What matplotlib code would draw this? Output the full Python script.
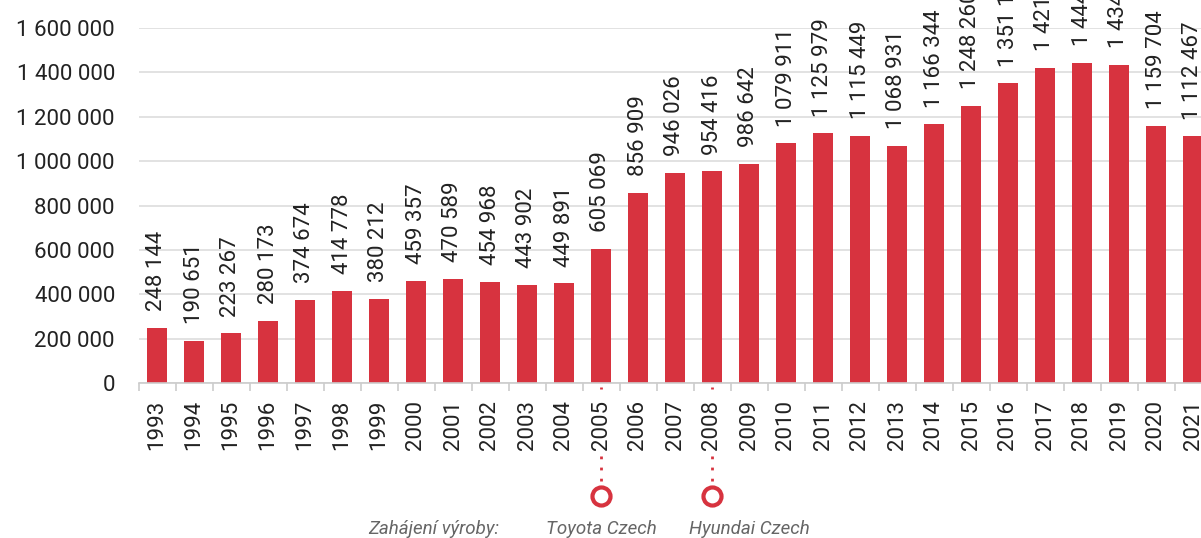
import numpy as np
import matplotlib.pyplot as plt
import matplotlib.transforms as mtransforms

plt.rcParams['font.family'] = ['Roboto', 'DejaVu Sans']

years = list(range(1993, 2022))
production = [248144, 190651, 223267, 280173, 374674, 414778, 380212, 459357,
              470589, 454968, 443902, 449891, 605069, 856909, 946026, 954416,
              986642, 1079911, 1125979, 1115449, 1068931, 1166344, 1248260,
              1351100, 1421200, 1444300, 1434200, 1159704, 1112467]
yticks = [0, 200000, 400000, 600000, 800000, 1000000, 1200000, 1400000, 1600000]
events = {2005: 'Toyota Czech', 2008: 'Hyundai Czech'}


def fmt(v):
    return f'{v:,}'.replace(',', ' ')


red = '#d7333f'
fig = plt.figure(figsize=(12.01, 5.38), dpi=100)
ax = fig.add_axes([138.5 / 1201, 155 / 538, 1073 / 1201, 355 / 538])

x = np.arange(len(years))
ax.bar(x, production, width=0.55, color=red, zorder=2)
# value labels above bars (the top ones run off the picture, as in the original)
for xi, v in zip(x, production):
    ax.annotate(fmt(v), (xi, v), xytext=(0, 12), textcoords='offset points',
                rotation=90, ha='center', va='bottom', fontsize=16,
                color='#222222', annotation_clip=False)

ax.set_xlim(-0.5, len(years) - 0.5)
ax.set_ylim(0, 1600000)
ax.set_yticks(yticks)
ax.set_yticklabels([fmt(t) for t in yticks], fontsize=16, color='#222222')
ax.tick_params(axis='y', length=0, pad=17)
ax.grid(axis='y', color='#dddddd', linewidth=1.2, zorder=0)

ax.set_xticks(x)
ax.set_xticklabels([str(y) for y in years], rotation=90, fontsize=16, color='#222222')
ax.set_xticks(np.arange(-0.5, len(years), 1), minor=True)
ax.tick_params(axis='x', which='major', length=0, pad=12)
ax.tick_params(axis='x', which='minor', length=6, color='#cccccc', width=1.2)

for s in ['top', 'right', 'left']:
    ax.spines[s].set_visible(False)
ax.spines['bottom'].set_color('#cccccc')
ax.spines['bottom'].set_linewidth(1.2)

# production start markers under the axis
trans = mtransforms.blended_transform_factory(ax.transData, ax.transAxes)
for yr, name in events.items():
    xi = years.index(yr)
    ax.plot([xi, xi], [-0.012, -0.016], color=red, lw=2, ls=':', transform=trans, clip_on=False)
    ax.plot([xi, xi], [-0.205, -0.275], color=red, lw=2, ls=(0, (1, 3)), transform=trans, clip_on=False)
    ax.plot([xi], [-0.318], marker='o', ms=13, mfc='white', mec=red, mew=3,
            transform=trans, clip_on=False)
    ax.text(xi + (0 if yr == 2005 else 1), -0.41, name, transform=trans, ha='center', va='center',
            fontsize=13.5, style='italic', color='#666666')
ax.text(years.index(2005) - 2.75, -0.41, 'Zahájení výroby:', transform=trans, ha='right',
        va='center', fontsize=13.5, style='italic', color='#666666')

fig.savefig('out.png', dpi=100)
